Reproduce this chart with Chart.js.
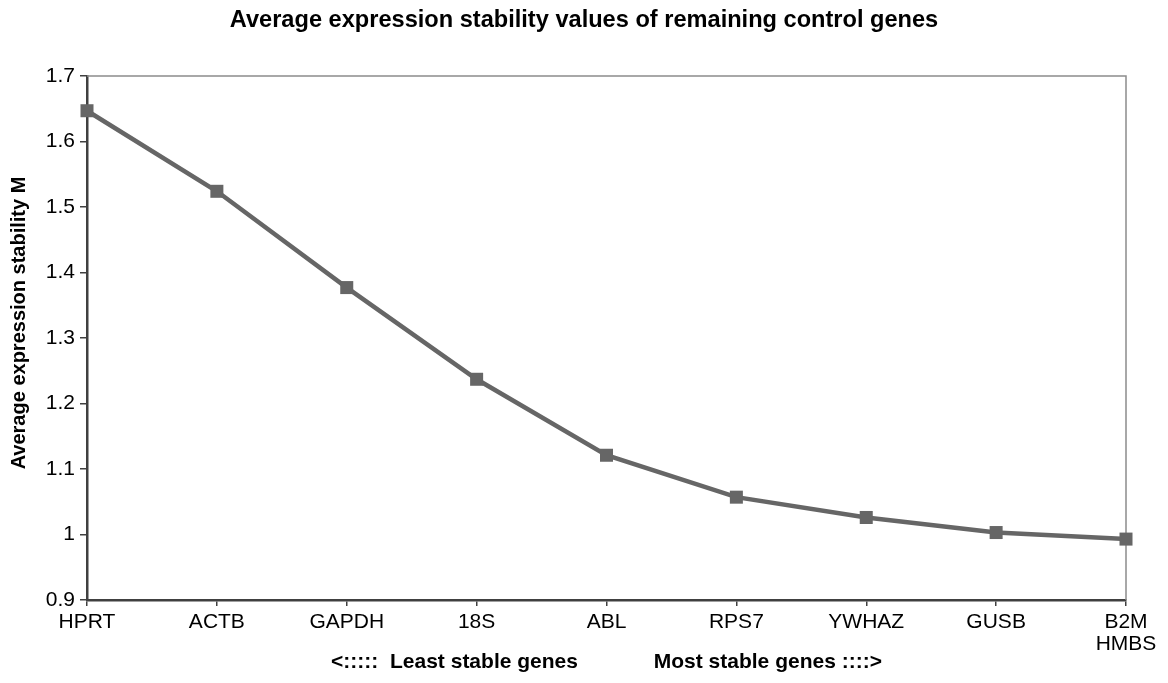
<!DOCTYPE html>
<html>
<head>
<meta charset="utf-8">
<script src="https://cdn.jsdelivr.net/npm/chart.js@4"></script>
<style>
  html, body { margin: 0; padding: 0; background: #fff; }
  #wrap { width: 1168px; height: 683px; }
</style>
</head>
<body>
<div id="wrap"><canvas id="c"></canvas></div>
<script>
// Genes ordered from least to most stable, with their average stability M
const genes = ['HPRT', 'ACTB', 'GAPDH', '18S', 'ABL', 'RPS7', 'YWHAZ', 'GUSB', ['B2M', 'HMBS']];
const stabilityM = [1.647, 1.524, 1.377, 1.237, 1.121, 1.057, 1.026, 1.003, 0.993];
const yTickLabels = ['0.9', '1', '1.1', '1.2', '1.3', '1.4', '1.5', '1.6', '1.7'];

const chartTitle = 'Average expression stability values of remaining control genes';
const yTitle = 'Average expression stability M';
const xTitle = '<:::::  Least stable genes' + ' '.repeat(13) + 'Most stable genes ::::>';

const FONT = '"Liberation Sans", Arial, Helvetica, sans-serif';
const AXIS_DARK = '#404040';
const LINE_GREY = '#666666';

// Thin grey top and right edges of the plot frame
const frameEdges = {
  id: 'frameEdges',
  beforeDatasetsDraw(chart) {
    const { ctx, chartArea: a } = chart;
    ctx.save();
    ctx.strokeStyle = '#8c8c8c';
    ctx.lineWidth = 1.5;
    ctx.beginPath();
    ctx.moveTo(a.left, a.top);
    ctx.lineTo(a.right, a.top);
    ctx.lineTo(a.right, a.bottom);
    ctx.stroke();
    ctx.restore();
  }
};

// Rotated value-axis title, centred slightly above the plot middle
const valueAxisTitle = {
  id: 'valueAxisTitle',
  afterDraw(chart) {
    const { ctx, chartArea: a } = chart;
    ctx.save();
    ctx.translate(19, (a.top + a.bottom) / 2 - 15);
    ctx.rotate(-Math.PI / 2);
    ctx.font = 'bold 20px ' + FONT;
    ctx.fillStyle = '#000';
    ctx.textAlign = 'center';
    ctx.textBaseline = 'middle';
    ctx.fillText(yTitle, 0, 0);
    ctx.restore();
  }
};

new Chart(document.getElementById('c'), {
  type: 'line',
  data: {
    labels: genes,
    datasets: [{
      data: stabilityM,
      borderColor: LINE_GREY,
      backgroundColor: LINE_GREY,
      borderWidth: 4.5,
      pointStyle: 'rect',
      pointRadius: 9.2,
      pointBorderWidth: 0,
      pointBackgroundColor: LINE_GREY,
      tension: 0,
      clip: false
    }]
  },
  options: {
    responsive: true,
    maintainAspectRatio: false,
    animation: false,
    events: [],
    layout: { padding: 0 },
    plugins: {
      legend: { display: false },
      tooltip: { enabled: false },
      title: {
        display: true,
        text: chartTitle,
        color: '#000',
        font: { family: FONT, size: 23.6, weight: 'bold' },
        padding: { top: 6, bottom: 41.7 }
      }
    },
    scales: {
      x: {
        type: 'category',
        offset: false,
        afterFit(scale) { scale.height = 83; },
        grid: {
          drawOnChartArea: false,
          drawTicks: true,
          tickLength: 6,
          color: AXIS_DARK,
          lineWidth: 1.5
        },
        border: { color: AXIS_DARK, width: 2.5 },
        ticks: {
          autoSkip: false,
          maxRotation: 0,
          minRotation: 0,
          padding: 5,
          color: '#000',
          font: { family: FONT, size: 21, lineHeight: 1.05 }
        },
        title: {
          display: true,
          text: xTitle,
          color: '#000',
          font: { family: FONT, size: 21, weight: 'bold' },
          padding: { top: 0, bottom: 8 }
        }
      },
      y: {
        min: 0.9,
        max: 1.7,
        afterFit(scale) { scale.width = 87; },
        grid: {
          drawOnChartArea: false,
          drawTicks: true,
          tickLength: 7,
          color: AXIS_DARK,
          lineWidth: 1.5
        },
        border: { color: AXIS_DARK, width: 2.5 },
        ticks: {
          stepSize: 0.1,
          padding: 5,
          color: '#000',
          font: { family: FONT, size: 21 },
          callback: (v, i) => yTickLabels[i]
        }
      },
      // Empty right-hand strip that keeps the plot clear of the canvas edge
      yRight: {
        position: 'right',
        min: 0.9,
        max: 1.7,
        afterFit(scale) { scale.width = 42; },
        grid: { display: false },
        border: { display: false },
        ticks: { display: false }
      }
    }
  },
  plugins: [frameEdges, valueAxisTitle]
});
</script>
</body>
</html>
